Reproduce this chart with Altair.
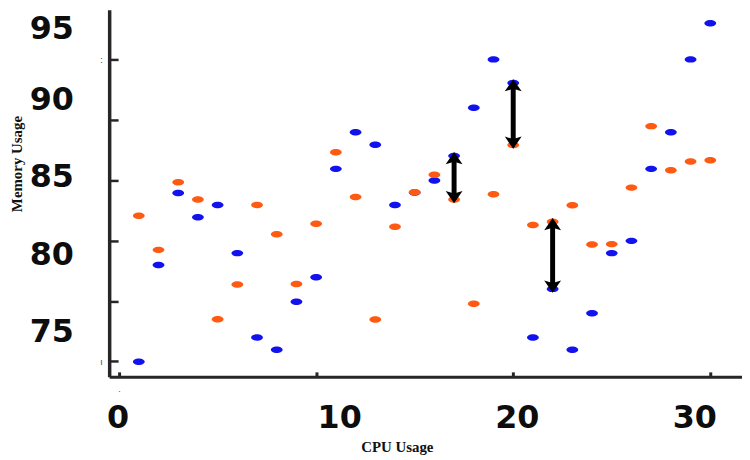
import altair as alt
import pandas as pd

# ---- data ----
cpu = list(range(1, 31))
blue_mem = [73.08, 79.32, 83.97, 82.41, 83.20, 80.09, 74.64, 73.85, 76.95, 78.53,
            85.53, 87.90, 87.09, 83.20, 84.00, 84.78, 86.37, 89.48, 92.60, 91.08,
            74.64, 77.78, 73.85, 76.20, 80.09, 80.88, 85.53, 87.90, 92.60, 94.93]
orange_mem = [82.50, 80.30, 84.66, 83.55, 75.82, 78.06, 83.20, 81.31, 78.10, 81.98,
              86.60, 83.71, 75.80, 81.79, 84.02, 85.15, 83.55, 76.82, 83.89, 87.07,
              81.90, 82.11, 83.18, 80.64, 80.67, 84.32, 88.29, 85.44, 86.00, 86.08]
arrow_cpu = [17, 20, 22]
x_tick_marks = [0, 10, 20, 30]
x_tick_labels = [0, 10, 20, 30]
y_tick_marks = [73.1, 77.0, 80.9, 84.8, 88.7, 92.6]
y_tick_labels = [75, 80, 85, 90, 95]

# ---- tables ----
pts = pd.DataFrame({
    "cpu": cpu + cpu,
    "mem": blue_mem + orange_mem,
    "series": ["Blue"] * len(cpu) + ["Orange"] * len(cpu),
    "order": list(range(2 * len(cpu))),
})
arr_rows = []
for c in arrow_cpu:
    b = blue_mem[cpu.index(c)]
    o = orange_mem[cpu.index(c)]
    arr_rows.append({"cpu": c, "top": max(b, o), "bottom": min(b, o)})
arrows = pd.DataFrame(arr_rows)

# ---- scales ----
xs = alt.Scale(domain=[-0.503, 31.61], nice=False, zero=False)
ys = alt.Scale(domain=[72.1, 95.8], nice=False, zero=False)

AX = "#262626"
# axis A: lines + titles
xA = alt.Axis(orient="bottom", domain=True, domainColor=AX, domainWidth=3, ticks=False,
              labels=False, grid=False, title="CPU Usage", titleFont="Liberation Serif",
              titleFontSize=15, titleFontWeight="bold", titleColor="#111111",
              titleX=290, titleY=75, titleAlign="center", titleBaseline="alphabetic")
yA = alt.Axis(orient="left", domain=True, domainColor=AX, domainWidth=3.5, ticks=False,
              labels=False, grid=False, title="Memory Usage", titleFont="Liberation Serif",
              titleFontSize=15, titleFontWeight="bold", titleColor="#111111",
              titleAngle=270, titleX=-88, titleY=155, titleAlign="center",
              titleBaseline="alphabetic")
# axis B: inward tick marks
xB = alt.Axis(orient="bottom", offset=-5, domain=False, ticks=True, tickSize=5, tickWidth=3,
              tickColor=AX, values=x_tick_marks, labels=True,
              labelExpr="datum.value == 0 ? '.' : ''", labelFontSize=9, labelColor="#555555",
              labelPadding=8, labelFlush=False, grid=False, title=None)
yB = alt.Axis(orient="left", offset=-9, domain=False, ticks=True, tickSize=9, tickWidth=2.5,
              tickColor=AX, values=y_tick_marks, labels=True,
              labelExpr="datum.value > 90 ? ':' : (datum.value < 74 ? '\u0131' : '')",
              labelFontSize=9, labelColor="#444444", labelPadding=7, labelFlush=False,
              grid=False, title=None)
# axis C: big labels (placed where the reference prints them)
x_label_pos = [-0.08, 11.17, 20.18, 29.19]
y_label_pos = [75, 80, 85, 90, 94.6]
xC = alt.Axis(orient="bottom", domain=False, ticks=False, tickSize=0, values=x_label_pos,
              labelExpr="format(round(datum.value / 10) * 10, 'd')",
              labelFont="DejaVu Sans", labelFontSize=32, labelFontWeight="bold",
              labelColor="#0d0d0d", labelBaseline="alphabetic", labelPadding=51,
              labelAlign="center", labelFlush=False, labelOverlap=False, labelBound=False,
              grid=False, title=None)
yC = alt.Axis(orient="left", domain=False, ticks=False, tickSize=0, values=y_label_pos,
              labelExpr="format(round(datum.value / 5) * 5, 'd')",
              labelFont="DejaVu Sans", labelFontSize=32, labelFontWeight="bold",
              labelColor="#0d0d0d", labelBaseline="middle", labelAlign="right",
              labelPadding=36, labelFlush=False, labelOverlap=False, labelBound=False,
              grid=False, title=None)

ellipse = "M -1 0 A 1 0.55 0 1 0 1 0 A 1 0.55 0 1 0 -1 0 Z"
head_up = "M 0 -0.45 L 1 1 L 0 0.7 L -1 1 Z"
head_down = "M 0 0.45 L 1 -1 L 0 -0.7 L -1 -1 Z"

points = alt.Chart(pts).mark_point(shape=ellipse, filled=True, size=140, opacity=1,
                                   strokeWidth=0).encode(
    x=alt.X("cpu:Q", scale=xs, axis=xA),
    y=alt.Y("mem:Q", scale=ys, axis=yA),
    color=alt.Color("series:N", scale=alt.Scale(domain=["Blue", "Orange"],
                                                range=["#1212EE", "#FF5A12"]), legend=None),
    order=alt.Order("order:Q"),
)

shafts = alt.Chart(arrows).mark_rule(strokeWidth=5, color="black").encode(
    x=alt.X("cpu:Q", scale=xs, axis=xB),
    y=alt.Y("top:Q", scale=ys, axis=yB),
    y2="bottom:Q",
)

ups = alt.Chart(arrows).mark_point(shape=head_up, filled=True, size=289, color="black",
                                   opacity=1, strokeWidth=0).encode(
    x=alt.X("cpu:Q", scale=xs, axis=xC),
    y=alt.Y("top:Q", scale=ys, axis=yC),
)
downs = alt.Chart(arrows).mark_point(shape=head_down, filled=True, size=289, color="black",
                                     opacity=1, strokeWidth=0).encode(
    x=alt.X("cpu:Q", scale=xs, axis=None),
    y=alt.Y("bottom:Q", scale=ys, axis=None),
)

chart = alt.layer(points, shafts, ups, downs).resolve_axis(
    x="independent", y="independent"
).properties(
    width=638, height=370,
    autosize=alt.AutoSizeParams(type="none"),
    padding={"left": 102, "top": 0, "right": 0, "bottom": 82},
    background="white",
).configure_view(stroke=None)

chart.save("out.html", embed_options={"renderer": "svg", "actions": False})
